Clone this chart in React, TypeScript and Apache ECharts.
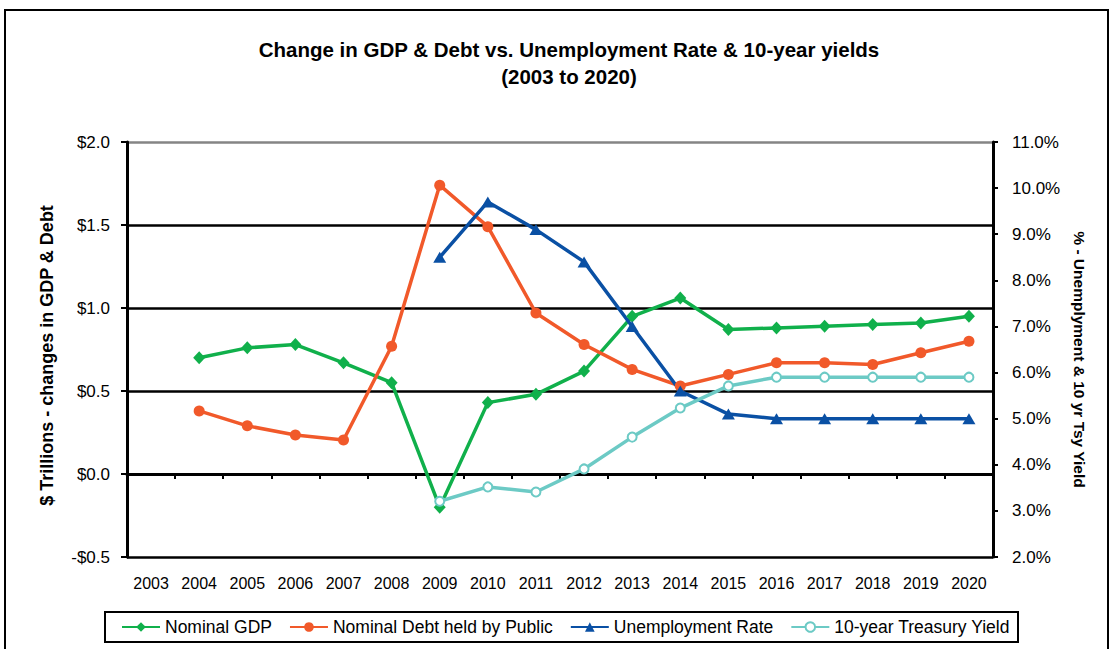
import React, { useEffect, useRef } from "react";
import * as echarts from "echarts";

const years = ["2003","2004","2005","2006","2007","2008","2009","2010","2011","2012","2013","2014","2015","2016","2017","2018","2019","2020"];
const nominalGdp = [null, 0.70, 0.76, 0.78, 0.67, 0.55, -0.20, 0.43, 0.48, 0.62, 0.95, 1.06, 0.87, 0.88, 0.89, 0.90, 0.91, 0.95];
const nominalDebt = [null, 0.38, 0.29, 0.235, 0.205, 0.77, 1.74, 1.49, 0.97, 0.78, 0.63, 0.53, 0.60, 0.67, 0.67, 0.66, 0.73, 0.80];
const unemploymentRate = [null, null, null, null, null, null, 8.5, 9.7, 9.1, 8.4, 7.0, 5.6, 5.1, 5.0, 5.0, 5.0, 5.0, 5.0];
const treasuryYield = [null, null, null, null, null, null, 3.21, 3.52, 3.41, 3.91, 4.60, 5.23, 5.71, 5.90, 5.90, 5.90, 5.90, 5.90];
const leftTicks = { min: -0.5, max: 2, interval: 0.5 };
const rightTicks = { min: 2, max: 11, interval: 1 };

const FONT = "'Liberation Sans', Arial, sans-serif";
const GREEN = "#10B04B";
const ORANGE = "#F1592A";
const BLUE = "#0A50A4";
const TEAL = "#6CCAC5";

export default function App() {
  const ref = useRef<HTMLDivElement>(null);
  useEffect(() => {
    if (!ref.current) return;
    const chart = echarts.init(ref.current, undefined, { renderer: "svg" });
    chart.setOption({
      animation: false,
      backgroundColor: "#fff",
      textStyle: { fontFamily: FONT },
      title: {
        text: "Change in GDP & Debt vs. Unemployment Rate & 10-year yields\n(2003 to 2020)",
        left: 564,
        top: 31,
        textAlign: "center",
        textStyle: { fontFamily: FONT, fontSize: 20.5, fontWeight: "bold", lineHeight: 27, color: "#000" },
      },
      graphic: [
        { type: "rect", silent: true, z: -10, shape: { x: 5, y: 10, width: 1103, height: 700 }, style: { fill: "none", stroke: "#000", lineWidth: 2 } },
        { type: "rect", silent: true, z: -10, shape: { x: 105, y: 612, width: 913, height: 30 }, style: { fill: "#fff", stroke: "#000", lineWidth: 2 } },
      ],
      legend: {
        top: 618,
        left: 121,
        padding: 0,
        itemGap: 17,
        itemWidth: 38,
        itemHeight: 12,
        textStyle: { fontFamily: FONT, fontSize: 17.5, color: "#000" },
        data: ["Nominal GDP", "Nominal Debt held by Public", "Unemployment Rate", "10-year Treasury Yield"],
      },
      grid: { left: 127, right: 120, top: 142, bottom: 92 },
      xAxis: {
        type: "category",
        data: years,
        boundaryGap: true,
        axisLine: { lineStyle: { color: "#000", width: 3 } },
        axisTick: { show: true, length: 5, lineStyle: { color: "#000", width: 2 } },
        axisLabel: { fontFamily: FONT, fontSize: 16, color: "#000", margin: 18 },
        splitLine: { show: false },
      },
      yAxis: [
        {
          type: "value",
          min: leftTicks.min,
          max: leftTicks.max,
          interval: leftTicks.interval,
          name: "$ Trillions - changes in GDP & Debt",
          nameLocation: "middle",
          nameRotate: 90,
          nameGap: 71,
          nameTextStyle: { fontFamily: FONT, fontSize: 18, fontWeight: "bold", color: "#000", padding: [0, 12, 0, 0] },
          axisLine: { show: true, lineStyle: { color: "#000", width: 3 } },
          axisTick: { show: true, length: 6, lineStyle: { color: "#000", width: 2 } },
          axisLabel: {
            fontFamily: FONT, fontSize: 17, color: "#000", margin: 17,
            formatter: (v: number) => (v < 0 ? "-$" + Math.abs(v).toFixed(1) : "$" + v.toFixed(1)),
          },
          splitLine: { show: true, lineStyle: { color: ["#000", "#000", "#000", "#000", "#000", "#858585"], width: 2.5 } },
        },
        {
          type: "value",
          min: rightTicks.min,
          max: rightTicks.max,
          interval: rightTicks.interval,
          position: "right",
          name: "% - Unemplyment & 10 yr Tsy Yield",
          nameLocation: "middle",
          nameRotate: -90,
          nameGap: 77,
          nameTextStyle: { fontFamily: FONT, fontSize: 15.5, fontWeight: "bold", color: "#000", padding: [0, 0, 0, 20] },
          axisLine: { show: true, lineStyle: { color: "#000", width: 3 } },
          axisTick: { show: true, length: 5, lineStyle: { color: "#000", width: 2 } },
          axisLabel: { fontFamily: FONT, fontSize: 17, color: "#000", margin: 19, formatter: (v: number) => v.toFixed(1) + "%" },
          splitLine: { show: false },
        },
      ],
      series: [
        {
          name: "Nominal GDP", type: "line", data: nominalGdp, yAxisIndex: 0,
          symbol: "diamond", symbolSize: [12, 13], connectNulls: false,
          lineStyle: { color: GREEN, width: 3.5 }, itemStyle: { color: GREEN },
        },
        {
          name: "Nominal Debt held by Public", type: "line", data: nominalDebt, yAxisIndex: 0,
          symbol: "circle", symbolSize: 11,
          lineStyle: { color: ORANGE, width: 3.5 }, itemStyle: { color: ORANGE },
        },
        {
          name: "Unemployment Rate", type: "line", data: unemploymentRate, yAxisIndex: 1,
          symbol: "triangle", symbolSize: [13, 11],
          lineStyle: { color: BLUE, width: 3.5 }, itemStyle: { color: BLUE },
        },
        {
          name: "10-year Treasury Yield", type: "line", data: treasuryYield, yAxisIndex: 1,
          symbol: "emptyCircle", symbolSize: 9,
          lineStyle: { color: TEAL, width: 3.5 }, itemStyle: { color: TEAL, borderColor: TEAL, borderWidth: 2.5 },
        },
      ],
    });
    return () => chart.dispose();
  }, []);
  return <div ref={ref} style={{ position: "absolute", left: 0, top: 0, width: 1113, height: 649, background: "#fff" }} />;
}
